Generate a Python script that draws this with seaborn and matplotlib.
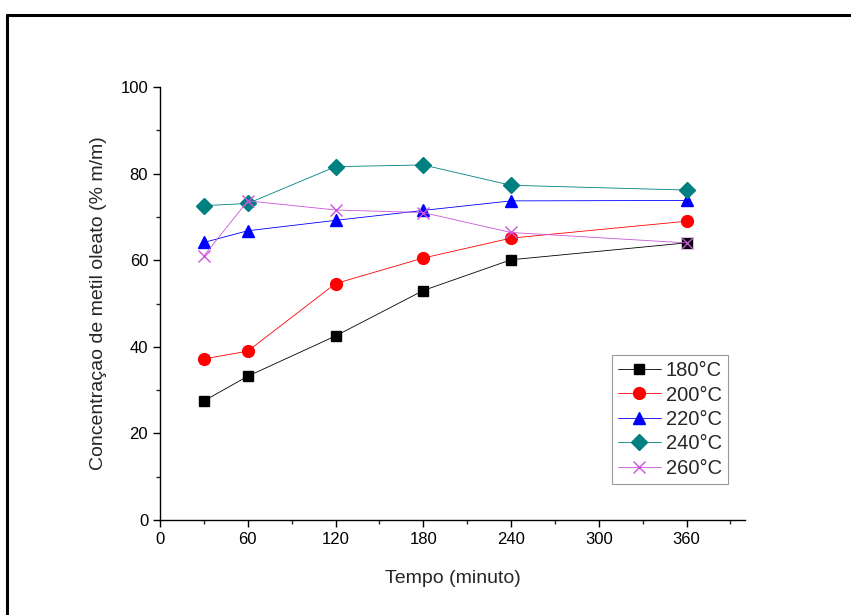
import numpy as np
import pandas as pd
import matplotlib
matplotlib.use("Agg")
import matplotlib.pyplot as plt
from matplotlib.lines import Line2D
from matplotlib.ticker import MultipleLocator
import seaborn as sns

# Data
tempo = [30, 60, 120, 180, 240, 360]
temperaturas = ["180°C", "200°C", "220°C", "240°C", "260°C"]
c_180 = [27.5, 33.2, 42.5, 53.0, 60.1, 64.0]
c_200 = [37.2, 39.0, 54.6, 60.5, 65.1, 69.0]
c_220 = [64.1, 66.8, 69.2, 71.5, 73.7, 73.8]
c_240 = [72.6, 73.1, 81.6, 82.0, 77.3, 76.2]
c_260 = [61.0, 73.7, 71.6, 71.0, 66.4, 64.0]

series = [c_180, c_200, c_220, c_240, c_260]
cores = ["#000000", "#ff0000", "#0000ff", "#008080", "#cc55dd"]
marcadores = ["s", "o", "^", "D", "x"]
tamanhos = [7.5, 8.5, 9, 8, 9]

sns.set_style("ticks")
plt.rcParams["font.family"] = ["Liberation Sans", "DejaVu Sans"]

fig = plt.figure(figsize=(8.51, 6.15), dpi=100)
ax = fig.add_axes([160 / 851, 1 - 520 / 615, 585 / 851, 433 / 615])

for temp, vals, cor, mk, ms in zip(temperaturas, series, cores, marcadores, tamanhos):
    df = pd.DataFrame({"tempo": tempo, "conc": vals})
    sns.lineplot(data=df, x="tempo", y="conc", ax=ax, color=cor, marker=mk,
                 markersize=ms, markeredgecolor=cor, markeredgewidth=1.0,
                 linewidth=0.6, label=temp)

ax.set_xlim(0, 400)
ax.set_ylim(0, 100)
ax.xaxis.set_major_locator(MultipleLocator(60))
ax.xaxis.set_minor_locator(MultipleLocator(30))
ax.yaxis.set_major_locator(MultipleLocator(20))
ax.yaxis.set_minor_locator(MultipleLocator(10))
ax.tick_params(which="major", direction="out", length=5, width=1, labelsize=12,
               colors="black")
ax.tick_params(which="minor", direction="out", length=3, width=1)
for s in ["top", "right"]:
    ax.spines[s].set_visible(False)
for s in ["left", "bottom"]:
    ax.spines[s].set_linewidth(1)
    ax.spines[s].set_color("black")

ax.set_xlabel("Tempo (minuto)", fontsize=14, labelpad=17)
ax.set_ylabel("Concentraçao de metil oleato (% m/m)", fontsize=14, labelpad=10)

leg = ax.legend(loc="upper left", bbox_to_anchor=(0.773, 0.381), fontsize=14.5,
                frameon=True, fancybox=False, framealpha=1, edgecolor="#999999",
                handlelength=2.1, handletextpad=0.25, borderpad=0.3,
                labelspacing=0.27, borderaxespad=0)
leg.get_frame().set_linewidth(0.8)

# outer frame lines (top and left) as in the reference
fig.add_artist(Line2D([7 / 851, 1], [1 - 15 / 615, 1 - 15 / 615],
                      color="black", lw=2.2, transform=fig.transFigure))
fig.add_artist(Line2D([7 / 851, 7 / 851], [0, 1 - 15 / 615],
                      color="black", lw=2.2, transform=fig.transFigure))

fig.savefig("out.png", dpi=100)
